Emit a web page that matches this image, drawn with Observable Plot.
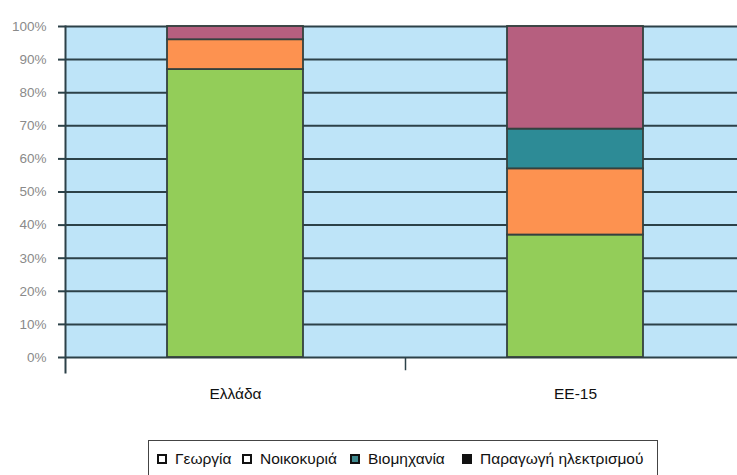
<!DOCTYPE html>
<html>
<head>
<meta charset="utf-8">
<script src="https://cdn.jsdelivr.net/npm/d3@7"></script>
<script src="https://cdn.jsdelivr.net/npm/@observablehq/plot@0.6"></script>
<style>
  html, body { margin: 0; padding: 0; background: #fff; overflow: hidden; width: 737px; height: 475px; }
  #chart { width: 745px; }
  .legend { position: absolute; left: 148px; top: 440px; width: 510px; height: 40px; border: 1.5px solid #444; box-sizing: border-box;
    font-family: "Liberation Sans", Arial, sans-serif; font-size: 15.5px; color: #111; }
  .legend .item { position: absolute; top: 9px; display: flex; align-items: center; white-space: nowrap; }
  .legend .sw { width: 10px; height: 10px; border: 2px solid #111; margin-right: 8px; box-sizing: border-box; }
</style>
</head>
<body>
<div id="chart"></div>
<div class="legend" id="legend"></div>
<script>
const categories = ["Ελλάδα", "ΕΕ-15"];
const series = ["Γεωργία", "Νοικοκυριά", "Βιομηχανία", "Παραγωγή ηλεκτρισμού"];
const greece = [87, 9, 0, 4];
const eu15 = [37, 20, 12, 31];
const yTicks = [0, 10, 20, 30, 40, 50, 60, 70, 80, 90, 100];
const seriesColors = ["#93cd59", "#fd9250", "#2d8b96", "#b65f7f"];
const legendSwatches = ["#ffffff", "#ffffff", "#3f8a8f", "#111111"];
const legendOffsets = [8, 93, 201, 313];

const rows = [];
[greece, eu15].forEach((vals, i) => {
  vals.forEach((v, j) => rows.push({category: categories[i], series: series[j], value: v}));
});

const ink = "#2c4148";
const chart = Plot.plot({
  width: 745,
  height: 410,
  marginLeft: 65,
  marginRight: 0,
  marginTop: 26,
  marginBottom: 53,
  style: {fontFamily: "'Liberation Sans', Arial, sans-serif", background: "transparent"},
  x: {domain: categories, paddingInner: 0.6, paddingOuter: 0.3, label: null},
  y: {domain: [0, 100], label: null},
  color: {domain: series, range: seriesColors},
  marks: [
    Plot.frame({fill: "#bee4f8", stroke: null}),
    Plot.ruleY(yTicks, {stroke: ink, strokeWidth: 2}),
    Plot.barY(rows, Plot.stackY({x: "category", y: "value", fill: "series", order: series, stroke: "#33413f", strokeWidth: 1.8})),
    Plot.frame({anchor: "left", stroke: ink, strokeWidth: 2, insetBottom: -15}),
    Plot.ruleX([categories[0]], {x: d => d, y1: 0, y2: -4, dx: 170, stroke: ink, strokeWidth: 1.5}),
    Plot.axisY(yTicks, {tickSize: 7, tickPadding: 12, tickFormat: d => d + "%", stroke: ink, strokeWidth: 2, fill: "#8a8a8a", fontSize: 13.5, label: null}),
    Plot.axisX({tickSize: 0, tickPadding: 30, fontSize: 15.5, fill: "#111", label: null})
  ]
});
document.getElementById("chart").appendChild(chart);

const legend = document.getElementById("legend");
series.forEach((s, i) => {
  const item = document.createElement("div");
  item.className = "item";
  item.style.left = legendOffsets[i] + "px";
  const sw = document.createElement("span");
  sw.className = "sw";
  sw.style.background = legendSwatches[i];
  item.appendChild(sw);
  item.appendChild(document.createTextNode(s));
  legend.appendChild(item);
});
</script>
</body>
</html>
